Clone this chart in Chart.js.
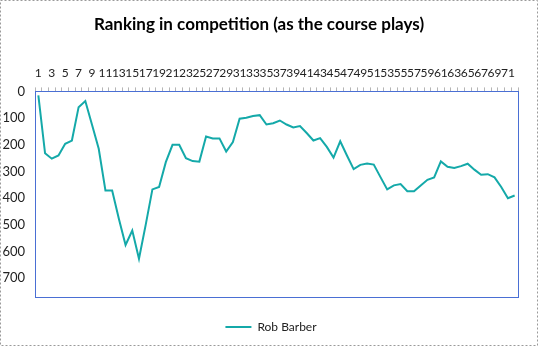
<!DOCTYPE html>
<html><head><meta charset="utf-8">
<script src="https://cdn.jsdelivr.net/npm/chart.js@4"></script>
<style>html,body{margin:0;padding:0;background:#fff}#wrap{width:539px;height:348px;position:relative}</style>
</head><body><div id="wrap"><canvas id="c" width="539" height="348"></canvas></div>
<script>
const categories = ["1","2","3","4","5","6","7","8","9","10","11","12","13","14","15","16","17","18","19","20","21","22","23","24","25","26","27","28","29","30","31","32","33","34","35","36","37","38","39","40","41","42","43","44","45","46","47","48","49","50","51","52","53","54","55","56","57","58","59","60","61","62","63","64","65","66","67","68","69","70","71","72"];
const robBarber = [15,232,252,240,196,184,59,36,125,215,371,371,477,575,521,627,500,367,358,265,200,200,250,261,263,169,176,176,225,190,102,99,92,89,124,119,109,124,135,130,156,184,175,208,248,187,240,291,275,270,274,321,367,352,347,374,374,352,331,322,262,282,287,280,271,293,312,310,322,358,400,390];
const yTicks = [0,100,200,300,400,500,600,700];
const seriesName = "Rob Barber";
const titleText = "Ranking in competition (as the course plays)";

const frame = {
  id:'frame',
  beforeDraw(chart){
    const ctx = chart.ctx;
    ctx.save();
    ctx.fillStyle = '#fff';
    ctx.fillRect(0,0,chart.width,chart.height);
    ctx.strokeStyle = '#9a9a9a';
    ctx.lineWidth = 1;
    ctx.setLineDash([2,2]);
    ctx.strokeRect(0.5,0.5,537,345);
    ctx.restore();
  },
  afterLayout(chart){
    chart.legend.left += 12; chart.legend.right += 12;
  },
  afterDraw(chart){
    const a = chart.chartArea, ctx = chart.ctx;
    ctx.save();
    ctx.strokeStyle = '#4a6fd4';
    ctx.lineWidth = 1;
    ctx.strokeRect(Math.round(a.left)+0.5, Math.round(a.top)+0.5, Math.round(a.right-a.left), Math.round(a.bottom-a.top));
    ctx.restore();
  }
};

new Chart(document.getElementById('c'), {
  type:'line',
  data:{labels:categories,datasets:[{label:seriesName,data:robBarber,borderColor:'#14a9a9',backgroundColor:'#14a9a9',borderWidth:2,pointRadius:0,tension:0,fill:false}]},
  options:{
    responsive:false,animation:false,
    layout:{padding:{left:0,right:21,top:0,bottom:5}},
    plugins:{
      title:{display:true,text:titleText,color:'#000',font:{family:'Lato',size:17,weight:'bold'},padding:{top:14,bottom:0}},
      legend:{position:'bottom',labels:{boxWidth:26,boxHeight:2,padding:24,color:'#222',font:{family:'Lato',size:12},
        generateLabels:(chart)=>Chart.defaults.plugins.legend.labels.generateLabels(chart).map(l=>Object.assign(l,{lineWidth:0}))}},
      tooltip:{enabled:false}
    },
    scales:{
      x:{position:'top',offset:true,
        grid:{display:true,drawOnChartArea:false,drawTicks:true,tickLength:4,color:'#b5b5b5',offset:true},
        border:{display:false},
        ticks:{autoSkip:false,maxRotation:0,minRotation:0,padding:7,color:'#222',font:{family:'Lato',size:12},
          callback:(v,i)=> i%2===0 ? categories[i] : ''},
        afterFit:(s)=>{s.height=57;}
      },
      y:{reverse:true,min:0,max:770,
        afterBuildTicks:(s)=>{s.ticks = yTicks.map(v=>({value:v}));},
        grid:{display:false},border:{display:false},
        ticks:{padding:2,color:'#222',font:{family:'Lato',size:13}},
        afterFit:(s)=>{s.width=35;}
      }
    }
  },
  plugins:[frame]
});
</script></body></html>
